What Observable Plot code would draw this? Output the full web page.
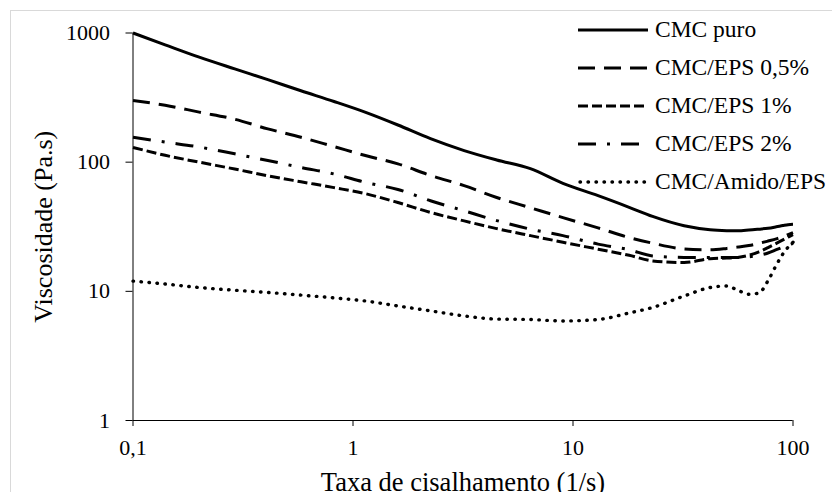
<!DOCTYPE html>
<html>
<head>
<meta charset="utf-8">
<script src="https://cdn.jsdelivr.net/npm/d3@7"></script>
<script src="https://cdn.jsdelivr.net/npm/@observablehq/plot@0.6"></script>
<style>
  html, body { margin: 0; padding: 0; background: #fff; }
  #wrap { position: relative; width: 832px; height: 492px; overflow: hidden;
          font-family: 'Liberation Serif', 'Times New Roman', serif; color: #000; }
  #border { position: absolute; left: 10px; top: 10px; width: 900px; height: 600px;
            border: 1px solid #d9d9d9; box-sizing: border-box; }
  #chart { position: absolute; left: 0; top: 0; }
  #legend { position: absolute; left: 578px; top: 11px; }
  .row { display: flex; align-items: center; height: 38px; }
  .row svg { width: 70px; height: 10px; margin-right: 7px; flex: none; }
  .row span { font-family: 'Liberation Serif', 'Times New Roman', serif; font-size: 23.5px; line-height: 1; white-space: nowrap; }
</style>
</head>
<body>
<div id="wrap">
  <div id="border"></div>
  <div id="chart"></div>
  <div id="legend"></div>
</div>
<script>
// ---- data ----
const shearRate = [0.1, 0.14, 0.2, 0.29, 0.41, 0.58, 0.82, 1.15, 1.6, 2.25, 3.2, 4.5, 6.4, 9, 13, 18, 23, 32, 42, 50, 56, 63, 70, 77, 84, 90, 95, 100];

const cmcPuro   = [1000, 810, 650, 527, 435, 357, 295, 242, 194, 152, 123, 104, 89, 68.5, 55, 44.7, 38, 32.2, 30, 29.5, 29.4, 29.8, 30.3, 30.8, 31.6, 32.3, 32.8, 33];
const cmcEps05  = [300, 276, 244, 215, 181, 156, 132, 112, 97, 79, 65.8, 53.3, 44.4, 37.2, 31, 26.1, 23.6, 21.3, 21, 21.5, 22, 22.6, 23.5, 24.5, 25.5, 26.5, 27.5, 28.5];
const cmcEps1   = [130, 113, 100, 88.5, 78.5, 70.5, 63.5, 56.8, 48.7, 40.8, 35.1, 30.6, 27, 24, 21.2, 19, 17.2, 16.7, 17.9, 18.1, 18.3, 19, 20.2, 21.8, 23.5, 25, 26.3, 27.5];
const cmcEps2   = [156, 143, 131, 116, 103, 91, 81, 69.5, 61.5, 50.3, 42, 35.3, 30.3, 27, 23.2, 21, 18.8, 18.3, 18.3, 18.3, 18.3, 18.5, 19, 19.8, 21, 22, 22.8, 23.5];
const cmcAmido  = [12, 11.4, 10.7, 10.2, 9.8, 9.35, 8.9, 8.4, 7.7, 7.06, 6.45, 6.1, 6.05, 5.9, 6.05, 6.8, 7.5, 9.2, 10.7, 11.0, 10.2, 9.5, 9.7, 12.1, 16, 19.5, 22, 24];

const seriesNames  = ["CMC puro", "CMC/EPS 0,5%", "CMC/EPS 1%", "CMC/EPS 2%", "CMC/Amido/EPS"];
const seriesValues = [cmcPuro, cmcEps05, cmcEps1, cmcEps2, cmcAmido];

const xTicks = [0.1, 1, 10, 100];
const xTickLabels = ["0,1", "1", "10", "100"];
const yTicks = [1, 10, 100, 1000];
const yTickLabels = ["1", "10", "100", "1000"];

const xTitle = "Taxa de cisalhamento (1/s)";
const yTitle = "Viscosidade (Pa.s)";

// ---- styles ----
const FONT = "'Liberation Serif', 'Times New Roman', serif";
const lineStyles = [
  {dash: null,           width: 3,   cap: "butt"},
  {dash: "17,9",         width: 3,   cap: "butt"},
  {dash: "10,4",         width: 3,   cap: "butt"},
  {dash: "18,11,3,11",   width: 3,   cap: "butt"},
  {dash: "0.5,7.5",      width: 3.4, cap: "round"}
];

const tables = seriesValues.map(vals => shearRate.map((x, j) => ({x, y: vals[j]})));

const lineMarks = tables.map((t, i) => Plot.line(t, {
  x: "x", y: "y", curve: "monotone-x",
  stroke: "#000", strokeWidth: lineStyles[i].width,
  strokeDasharray: lineStyles[i].dash ?? undefined,
  strokeLinecap: lineStyles[i].cap, strokeLinejoin: "round"
}));

const chart = Plot.plot({
  width: 832, height: 492,
  marginLeft: 132.5, marginRight: 39.5, marginTop: 32.5, marginBottom: 72,
  style: {fontFamily: FONT, fontSize: "22px", color: "#000", background: "transparent", overflow: "visible"},
  x: {type: "log", domain: [0.1, 100]},
  y: {type: "log", domain: [1, 1000]},
  marks: [
    ...lineMarks,
    Plot.ruleX([0.1], {stroke: "#000", strokeWidth: 1}),
    Plot.ruleY([1], {stroke: "#000", strokeWidth: 1}),
    Plot.axisX({ticks: xTicks, tickFormat: d => xTickLabels[xTicks.indexOf(d)], tickSize: 6, tickPadding: 13, label: null, fontFamily: FONT, fontSize: 22, stroke: "#000", fill: "#000"}),
    Plot.axisY({ticks: yTicks, tickFormat: d => yTickLabels[yTicks.indexOf(d)], tickSize: 7, tickPadding: 16, label: null, fontFamily: FONT, fontSize: 22, stroke: "#000", fill: "#000"}),
    Plot.text([yTitle], {text: d => d, frameAnchor: "left", textAnchor: "middle", dx: -89.5, rotate: -90, fontFamily: FONT, fontSize: 26, fill: "#000", lineAnchor: "middle"}),
    Plot.text([xTitle], {text: d => d, frameAnchor: "bottom", textAnchor: "middle", dy: 62, fontFamily: FONT, fontSize: 26.5, fill: "#000", lineAnchor: "middle"})
  ]
});
document.getElementById("chart").appendChild(chart);

// ---- legend ----
const legend = d3.select("#legend");
seriesNames.forEach((name, i) => {
  const row = legend.append("div").attr("class", "row");
  const svg = row.append("svg").attr("viewBox", "0 0 70 10");
  svg.append("line")
    .attr("x1", lineStyles[i].cap === "round" ? 2 : 0).attr("x2", 70).attr("y1", 5).attr("y2", 5)
    .attr("stroke", "#000").attr("stroke-width", lineStyles[i].width)
    .attr("stroke-dasharray", lineStyles[i].dash)
    .attr("stroke-linecap", lineStyles[i].cap);
  row.append("span").text(name);
});
</script>
</body>
</html>
